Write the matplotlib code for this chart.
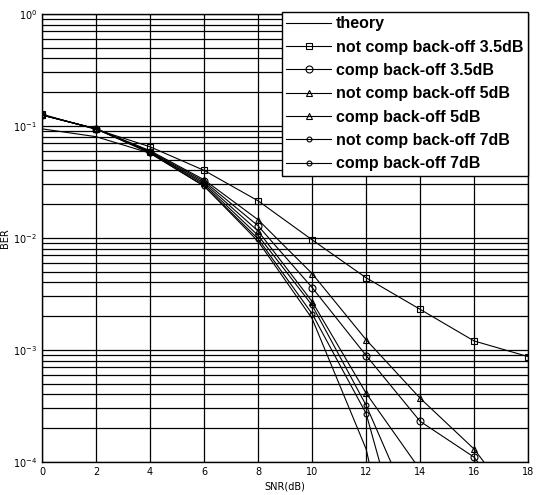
import matplotlib
matplotlib.use("Agg")
import matplotlib.pyplot as plt

# SNR points (dB)
snr = [0, 2, 4, 6, 8, 10, 12, 14, 16, 18]

theory = [0.094, 0.080, 0.057, 0.029, 0.0093, 0.0019, 1.3e-4, 1e-6, 1e-8, 1e-10]
not_comp_35 = [0.127, 0.093, 0.065, 0.040, 0.0214, 0.0096, 0.0044, 0.0023, 0.0012, 8.7e-4]
comp_35 = [0.125, 0.094, 0.059, 0.032, 0.0128, 0.0036, 8.9e-4, 2.3e-4, 1.1e-4, 2.5e-5]
not_comp_5 = [0.125, 0.094, 0.060, 0.033, 0.0145, 0.0048, 1.23e-3, 3.7e-4, 1.3e-4, 3e-5]
comp_5 = [0.125, 0.094, 0.058, 0.031, 0.0115, 0.0027, 4.1e-4, 8.5e-5, 1e-6, 1e-7]
not_comp_7 = [0.125, 0.094, 0.058, 0.030, 0.0105, 0.0025, 3.2e-4, 2.5e-5, 1e-7, 1e-8]
comp_7 = [0.125, 0.094, 0.057, 0.029, 0.0098, 0.0021, 2.7e-4, 5e-6, 1e-8, 1e-9]

labels = ["theory", "not comp back-off 3.5dB", "comp back-off 3.5dB",
          "not comp back-off 5dB", "comp back-off 5dB",
          "not comp back-off 7dB", "comp back-off 7dB"]

fig = plt.figure(figsize=(5.4, 4.95), dpi=100)
ax = fig.add_axes([0.078, 0.067, 0.9, 0.905])

style = dict(color='black', lw=0.8, mfc='none', mew=0.8)
ax.semilogy(snr, theory, '-', color='black', lw=0.8, label=labels[0])
ax.semilogy(snr, not_comp_35, '-s', ms=5, label=labels[1], **style)
ax.semilogy(snr, comp_35, '-o', ms=5, label=labels[2], **style)
ax.semilogy(snr, not_comp_5, '-^', ms=5, label=labels[3], **style)
ax.semilogy(snr, comp_5, '-^', ms=5, label=labels[4], **style)
ax.semilogy(snr, not_comp_7, '-o', ms=3.5, label=labels[5], **style)
ax.semilogy(snr, comp_7, '-o', ms=3.5, label=labels[6], **style)

ax.set_xlim(0, 18)
ax.set_ylim(1e-4, 1)
ax.set_xticks(range(0, 19, 2))
ax.grid(True, which='major', color='black', lw=0.9)
ax.grid(True, which='minor', axis='y', color='black', lw=0.9)
ax.tick_params(labelsize=7, direction='in', which='both', length=0)
for s in ax.spines.values():
    s.set_linewidth(1.0)

ax.set_xlabel("SNR(dB)", fontsize=7, labelpad=2)
ax.xaxis.set_label_coords(0.5, -0.045)
ax.set_ylabel("BER", fontsize=7, labelpad=2)

leg = ax.legend(loc='upper right', bbox_to_anchor=(1.0, 1.005),
                prop={'family': ['Liberation Sans', 'DejaVu Sans'], 'size': 11.5,
                      'weight': 'bold'},
                handlelength=2.8, handletextpad=0.3, labelspacing=0.52,
                borderpad=0.3, borderaxespad=0.0, fancybox=False, framealpha=1,
                edgecolor='black')
leg.get_frame().set_linewidth(1.0)

fig.savefig("out.png", dpi=100)
